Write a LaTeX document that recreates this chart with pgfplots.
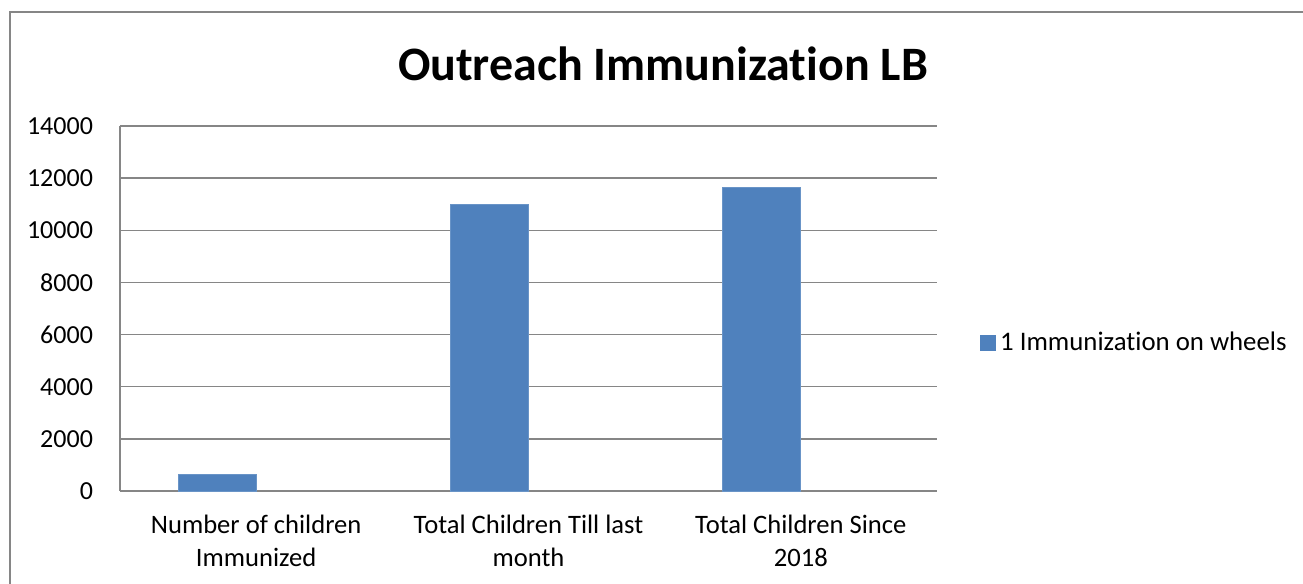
\documentclass[border=0pt]{standalone}
\usepackage{pgfplots}
\pgfplotsset{compat=1.18}
\usepackage{fontspec}
\setmainfont{Carlito}[Ligatures=NoCommon]
\definecolor{barblue}{RGB}{79,129,189}
\definecolor{gridgray}{RGB}{134,134,134}
\begin{document}
\begin{tikzpicture}
\useasboundingbox (0,0) rectangle (651.5pt,292pt);
\draw[gridgray, line width=0.6pt] (5pt,0pt) -- (5pt,286pt) -- (651.5pt,286pt);
\node[font=\fontsize{24}{28}\selectfont\bfseries] at (331.5pt,260pt) {Outreach Immunization LB};
\begin{axis}[
  at={(60pt,46.5pt)}, anchor=south west,
  scale only axis, width=408.5pt, height=182.5pt,
  xmin=-0.5, xmax=2.5, ymin=0, ymax=14000,
  ytick={0,2000,...,14000},
  xtick={0,1,2},
  xticklabels={{Number of children\\Immunized},{Total Children Till last\\month},{Total Children Since\\2018}},
  xticklabel style={align=center, font=\fontsize{13.3}{16.5}\selectfont, yshift=-8.5pt},
  yticklabel style={font=\fontsize{13}{15}\selectfont, xshift=-10pt},
  /pgf/number format/assume math mode=true,
  scaled y ticks=false,
  yticklabel={\pgfmathprintnumber[fixed,1000 sep={}]{\tick}},
  major tick length=0pt,
  axis x line*=bottom, axis y line*=left,
  axis line style={gridgray, line width=0.75pt},
  ymajorgrids, grid style={gridgray, line width=0.75pt},
  ybar, bar width=39pt, bar shift=-19.5pt,
  legend style={at={(1.0526,0.405)}, anchor=west, draw=none, font=\fontsize{13.4}{15}\selectfont, inner sep=0pt},
  legend image code/.code={\fill[barblue] (0pt,-3.5pt) rectangle (7.5pt,4pt);},
  clip=false,
]
\addplot[fill=barblue, draw=barblue!85!white] coordinates {(0,623) (1,11006) (2,11630)};
\addlegendentry{1 Immunization on wheels}
\end{axis}
\end{tikzpicture}
\end{document}
